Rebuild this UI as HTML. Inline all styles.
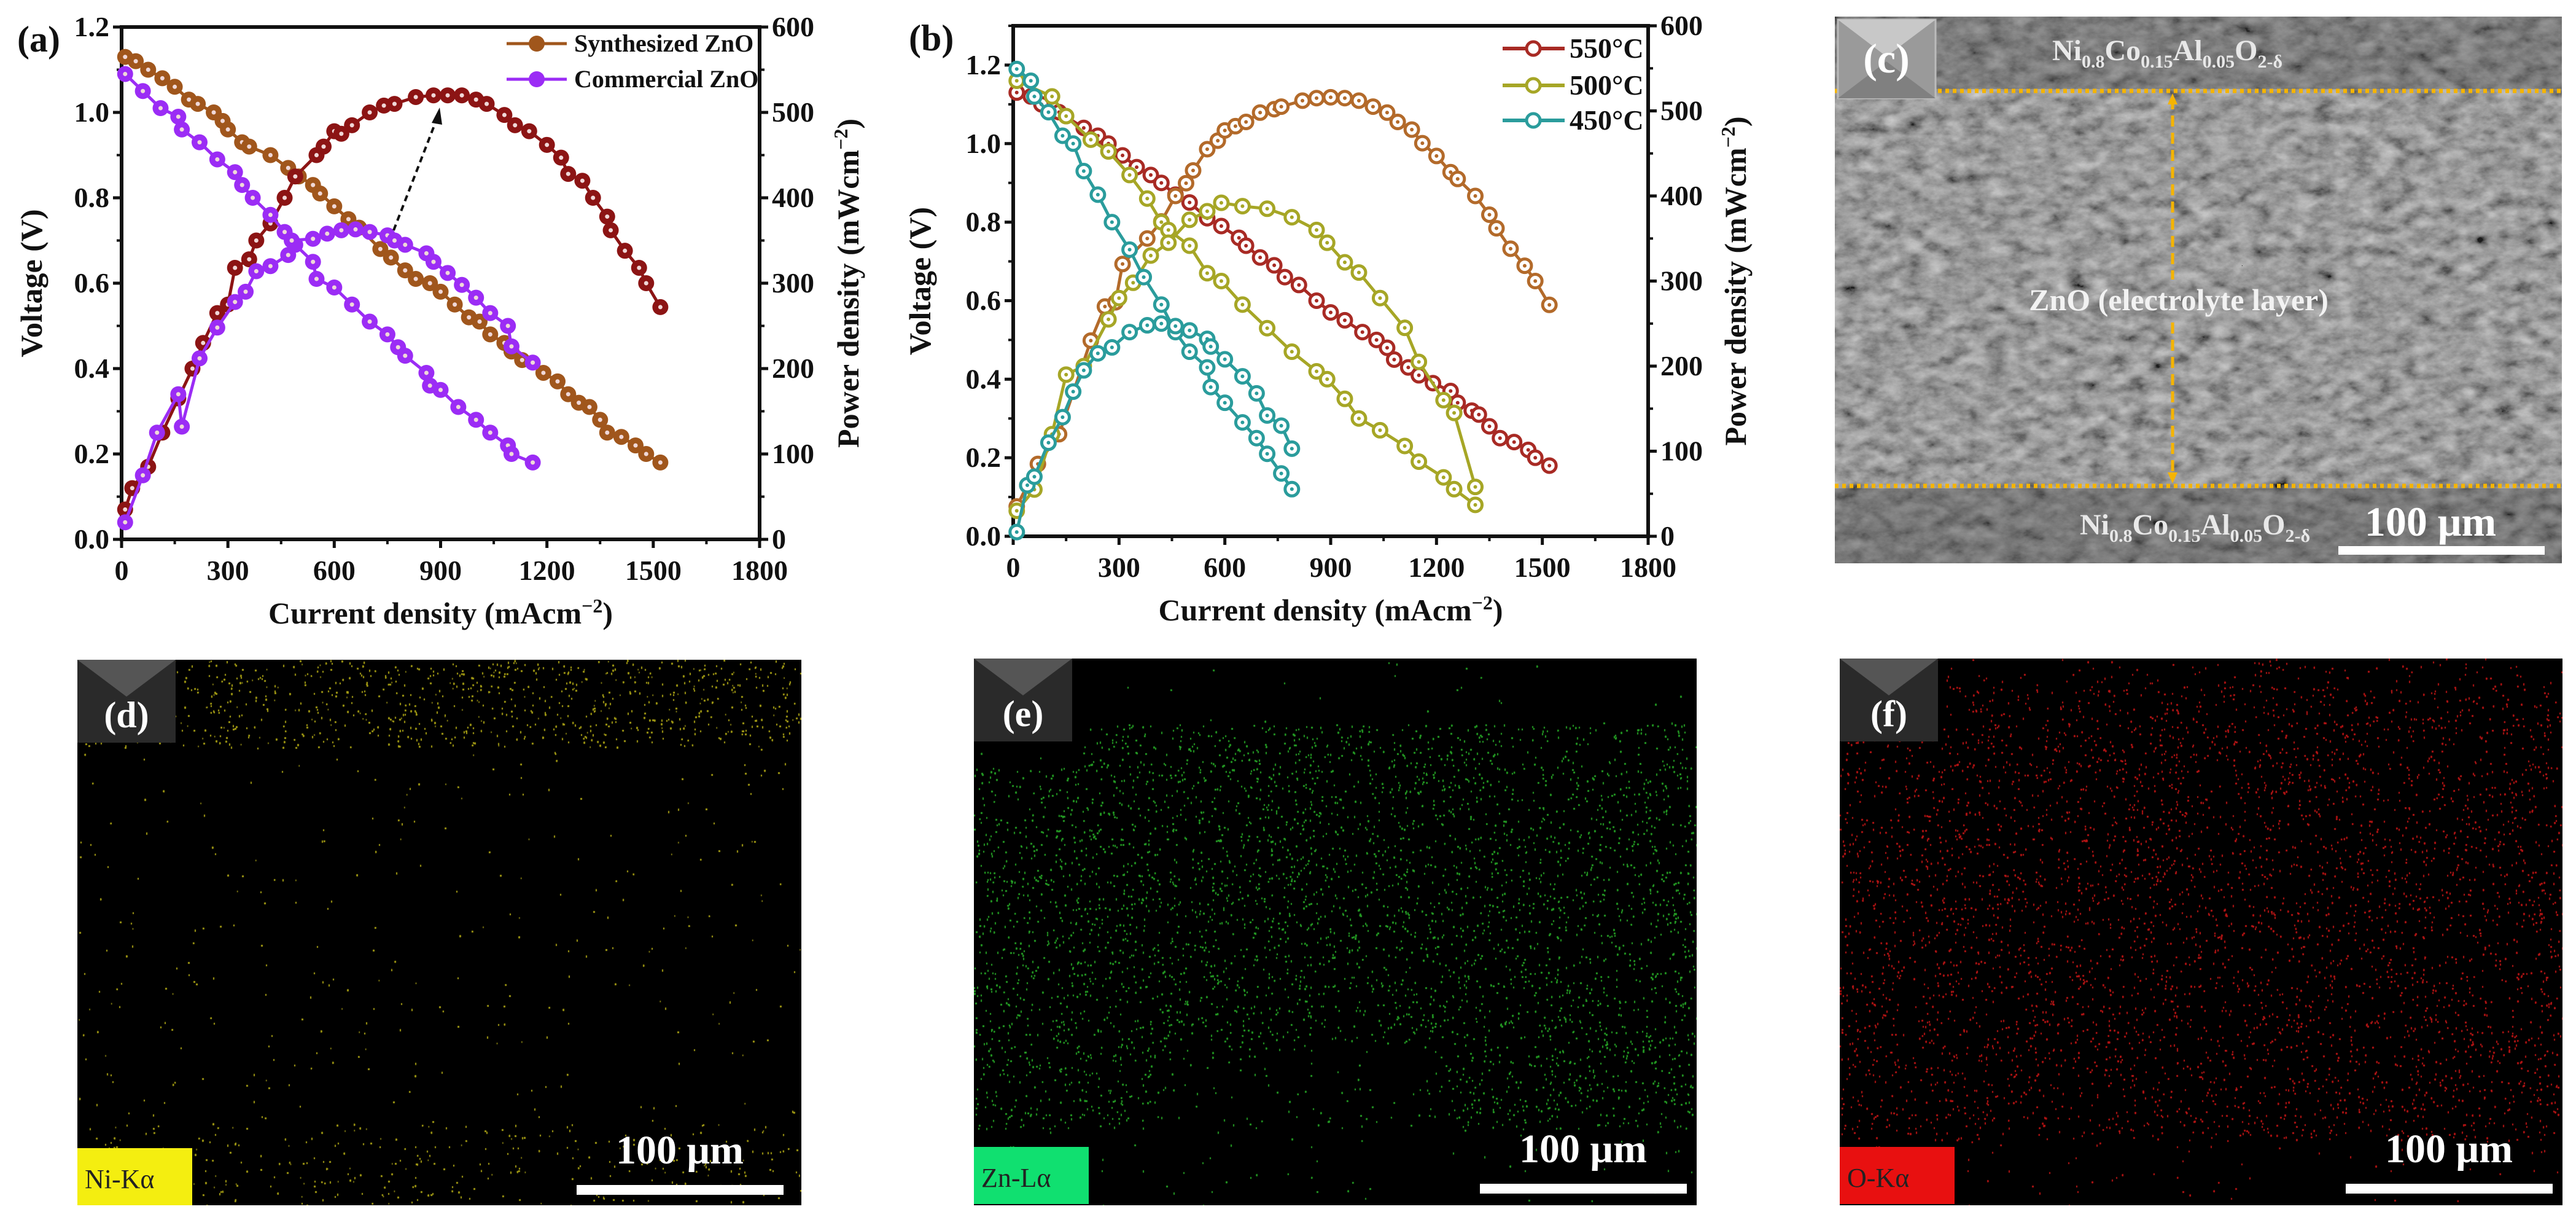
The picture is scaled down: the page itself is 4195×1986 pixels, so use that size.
<!DOCTYPE html>
<html><head><meta charset="utf-8">
<style>
html,body{margin:0;padding:0;background:#fff;}
body{width:4195px;height:1986px;position:relative;overflow:hidden;font-family:"Liberation Serif",serif;}
svg{position:absolute;left:0;top:0;}
canvas{position:absolute;}
.t{font-family:"Liberation Serif",serif;font-weight:bold;fill:#111;}
</style></head>
<body>
<svg id="fig" width="4195" height="1986" viewBox="0 0 4195 1986">
<defs>
<filter id="sem" x="0" y="0" width="100%" height="100%">
<feTurbulence type="fractalNoise" baseFrequency="0.03 0.05" numOctaves="5" seed="7" result="n"/>
<feColorMatrix in="n" type="matrix" values="0.33 0.33 0.33 0 0  0.33 0.33 0.33 0 0  0.33 0.33 0.33 0 0  0 0 0 0 1"/>
<feComponentTransfer><feFuncR type="linear" slope="1.6" intercept="-0.4"/><feFuncG type="linear" slope="1.6" intercept="-0.4"/><feFuncB type="linear" slope="1.6" intercept="-0.4"/></feComponentTransfer>
</filter>
</defs>
<g id="pa"></g>
<g id="pb"></g>
<g id="pc">
<rect x="2988" y="27" width="1184" height="890" fill="#6f6f6f"/>
<rect x="2988" y="27" width="1184" height="890" filter="url(#sem)" opacity="0.75"/>
<rect x="2988" y="795" width="1184" height="122" fill="#3a3a3a" opacity="0.35"/>
<rect x="2988" y="27" width="1184" height="118" fill="#3a3a3a" opacity="0.3"/>
<line x1="2988" y1="148" x2="4172" y2="148" stroke="#f5b400" stroke-width="7" stroke-dasharray="6 6"/>
<line x1="2988" y1="791" x2="4172" y2="791" stroke="#f5b400" stroke-width="7" stroke-dasharray="6 6"/>
<line x1="3538" y1="160" x2="3538" y2="455" stroke="#f5b400" stroke-width="5" stroke-dasharray="18 10"/>
<line x1="3538" y1="525" x2="3538" y2="780" stroke="#f5b400" stroke-width="5" stroke-dasharray="18 10"/>
<polygon points="3538,152 3530,170 3546,170" fill="#f5b400"/>
<polygon points="3538,787 3530,769 3546,769" fill="#f5b400"/>
<rect x="2993" y="32" width="159" height="128" fill="#9a9a9a" stroke="#bbb" stroke-width="3"/>
<polygon points="2993,32 3152,32 3072,92" fill="#c8c8c8"/>
<polygon points="2993,160 3152,160 3072,100" fill="#808080"/>
<text x="3072" y="118" text-anchor="middle" font-size="68" style="fill:#fff;font-weight:bold">(c)</text>
<text x="3342" y="98" font-size="48" style="fill:#e8e8e8;font-weight:bold">Ni<tspan font-size="30" dy="12">0.8</tspan><tspan dy="-12">Co</tspan><tspan font-size="30" dy="12">0.15</tspan><tspan dy="-12">Al</tspan><tspan font-size="30" dy="12">0.05</tspan><tspan dy="-12">O</tspan><tspan font-size="30" dy="12">2-δ</tspan></text>
<text x="3548" y="505" text-anchor="middle" font-size="50" style="fill:#f2f2f2;font-weight:bold">ZnO (electrolyte layer)</text>
<text x="3387" y="870" font-size="48" style="fill:#e8e8e8;font-weight:bold">Ni<tspan font-size="30" dy="12">0.8</tspan><tspan dy="-12">Co</tspan><tspan font-size="30" dy="12">0.15</tspan><tspan dy="-12">Al</tspan><tspan font-size="30" dy="12">0.05</tspan><tspan dy="-12">O</tspan><tspan font-size="30" dy="12">2-δ</tspan></text>
<text x="3958" y="872" text-anchor="middle" font-size="68" style="fill:#fff;font-weight:bold">100 μm</text>
<rect x="3808" y="889" width="336" height="14" fill="#fff"/>
</g>
</svg>
<canvas id="cd" width="1179" height="888" style="left:126px;top:1074px"></canvas>
<canvas id="ce" width="1177" height="890" style="left:1586px;top:1072px"></canvas>
<canvas id="cf" width="1177" height="890" style="left:2996px;top:1072px"></canvas>
<svg id="ov" width="4195" height="1986" viewBox="0 0 4195 1986"></svg>
<script>
// ---- Panel (a) data ----
const aSynI = [10,40,75,115,150,190,215,260,285,300,340,360,420,470,500,540,560,600,640,670,730,760,800,830,870,900,940,980,1010,1040,1080,1100,1130,1190,1230,1260,1290,1320,1350,1370,1410,1450,1480,1520];
const aSynV = [1.13,1.12,1.10,1.08,1.06,1.03,1.02,1.00,0.98,0.96,0.93,0.92,0.90,0.87,0.85,0.83,0.81,0.78,0.75,0.73,0.68,0.66,0.63,0.61,0.60,0.58,0.55,0.52,0.51,0.48,0.46,0.44,0.42,0.39,0.37,0.34,0.32,0.31,0.28,0.25,0.24,0.22,0.20,0.18];
const aSynPI = [10,30,75,115,160,200,230,270,300,320,360,380,420,460,490,550,570,600,620,650,700,740,770,830,880,920,960,1000,1030,1080,1110,1150,1200,1240,1260,1300,1330,1370,1380,1420,1460,1480,1520];
const aSynP = [35,60,85,125,165,200,230,265,275,318,328,350,370,400,425,450,460,478,475,485,500,508,510,518,520,520,520,515,510,497,485,478,462,447,428,420,400,378,362,338,318,300,272];
const aComI = [10,60,110,160,170,220,270,320,340,370,420,460,490,540,550,600,650,700,750,780,800,860,870,900,950,1000,1040,1090,1100,1160];
const aComV = [1.09,1.05,1.01,0.99,0.96,0.93,0.89,0.86,0.83,0.80,0.76,0.72,0.69,0.65,0.61,0.59,0.55,0.51,0.48,0.45,0.43,0.39,0.36,0.35,0.31,0.28,0.25,0.22,0.20,0.18];
const aComPI = [10,60,100,160,170,220,270,320,350,380,420,470,480,540,580,620,660,700,750,770,800,860,880,920,960,1000,1040,1090,1100,1160];
const aComP = [20,75,125,170,132,212,248,278,290,314,320,333,350,352,358,362,363,360,356,350,345,335,325,312,298,283,265,250,226,207];
// ---- Panel (b) data ----
const b550I = [10,50,80,130,200,240,270,310,350,390,420,460,500,550,590,640,660,700,740,770,810,860,900,940,990,1030,1060,1080,1120,1150,1190,1240,1260,1300,1320,1350,1380,1420,1460,1480,1520];
const b550V = [1.13,1.12,1.10,1.08,1.04,1.02,1.00,0.97,0.94,0.92,0.90,0.87,0.85,0.81,0.79,0.76,0.74,0.71,0.69,0.66,0.64,0.60,0.57,0.55,0.52,0.50,0.48,0.45,0.43,0.41,0.39,0.37,0.34,0.32,0.31,0.28,0.25,0.24,0.22,0.20,0.18];
const b550PI = [10,40,70,130,220,260,290,310,380,420,460,490,510,550,580,600,630,660,700,740,760,820,860,900,940,980,1020,1060,1090,1130,1160,1200,1240,1260,1310,1350,1370,1410,1450,1480,1520];
const b550P = [35,60,85,120,230,270,275,320,350,370,400,415,430,455,465,477,482,487,498,502,505,512,515,516,515,512,505,498,487,478,462,447,428,420,400,378,362,338,318,300,272];
const b500I = [10,110,150,220,270,330,380,420,440,500,550,590,650,720,790,860,890,940,980,1040,1110,1150,1220,1250,1310];
const b500V = [1.16,1.12,1.07,1.01,0.98,0.92,0.86,0.80,0.78,0.74,0.67,0.65,0.59,0.53,0.47,0.42,0.40,0.35,0.30,0.27,0.23,0.19,0.15,0.12,0.08];
const b500PI = [10,60,110,150,200,270,300,340,390,440,500,550,590,650,720,790,860,890,940,980,1040,1110,1150,1220,1250,1310];
const b500P = [30,55,120,190,200,255,280,298,330,345,372,382,392,388,385,375,360,345,322,310,280,245,205,160,145,58];
const b450I = [10,50,60,100,140,170,200,240,280,330,370,420,460,500,550,560,600,650,690,720,760,790];
const b450V = [1.19,1.16,1.12,1.08,1.02,1.00,0.93,0.87,0.80,0.73,0.66,0.59,0.52,0.47,0.43,0.38,0.34,0.29,0.25,0.21,0.16,0.12];
const b450PI = [10,40,60,100,140,170,200,240,280,330,380,420,460,500,550,560,600,650,690,720,760,790];
const b450P = [5,60,70,110,140,170,195,215,222,240,248,250,247,242,232,223,208,188,168,142,130,103];
const xTicks = [0,300,600,900,1200,1500,1800];
const vTicks = [0.0,0.2,0.4,0.6,0.8,1.0,1.2];
const pTicks = [0,100,200,300,400,500,600];

const NS='http://www.w3.org/2000/svg';
function mk(parent,tag,attrs,text){const e=document.createElementNS(NS,tag);for(const k in attrs)e.setAttribute(k,attrs[k]);if(text!==undefined)e.textContent=text;parent.appendChild(e);return e;}

function axes(g,L,R,T,B,X,YV,YP,labX,labY,letter,vmax){
  const ax=mk(g,'g',{});
  
  
  mk(ax,'rect',{x:L,y:T,width:R-L,height:B-T,fill:'none',stroke:'#111','stroke-width':6});
  xTicks.forEach(v=>{const x=X(v);mk(ax,'line',{x1:x,y1:B,x2:x,y2:B+14,stroke:'#111','stroke-width':5});
    const t=mk(ax,'text',{x:x,y:B+66,'text-anchor':'middle','font-size':46,class:'t'},String(v));
    });
  for(let v=150;v<1800;v+=300){const x=X(v);mk(ax,'line',{x1:x,y1:B,x2:x,y2:B+8,stroke:'#111','stroke-width':4});}
  vTicks.forEach(v=>{const y=YV(v);mk(ax,'line',{x1:L,y1:y,x2:L-14,y2:y,stroke:'#111','stroke-width':5});
    const t=mk(ax,'text',{x:L-20,y:y+15,'text-anchor':'end','font-size':46,class:'t'},v.toFixed(1));
    });
  for(let v=0.1;v<vmax;v+=0.2){const y=YV(v);mk(ax,'line',{x1:L,y1:y,x2:L-8,y2:y,stroke:'#111','stroke-width':4});}
  pTicks.forEach(v=>{const y=YP(v);mk(ax,'line',{x1:R,y1:y,x2:R+14,y2:y,stroke:'#111','stroke-width':5});
    const t=mk(ax,'text',{x:R+20,y:y+15,'font-size':46,class:'t'},String(v));
    });
  for(let v=50;v<600;v+=100){const y=YP(v);mk(ax,'line',{x1:R,y1:y,x2:R+8,y2:y,stroke:'#111','stroke-width':4});}
  const xt=mk(ax,'text',{x:(L+R)/2,y:B+137,'text-anchor':'middle','font-size':50,class:'t'});
  xt.innerHTML='Current density (mAcm<tspan font-size="32" dy="-18">−2</tspan><tspan dy="18">)</tspan>';
  
  const yt=mk(ax,'text',{x:0,y:0,'text-anchor':'middle','font-size':50,class:'t',transform:`translate(${labY},${(T+B)/2}) rotate(-90)`},'Voltage (V)');
  
  const pt=mk(ax,'text',{x:0,y:0,'text-anchor':'middle','font-size':50,class:'t',transform:`translate(${labX},${(T+B)/2}) rotate(-90)`});
  pt.innerHTML='Power density (mWcm<tspan font-size="32" dy="-18">−2</tspan><tspan dy="18">)</tspan>';
  
  const lt=mk(g,'text',{x:L-170,y:T+40,'font-size':60,class:'t'},letter);
  
}

function series(g,xs,ys,X,Y,color,name,hollow){
  const s=mk(g,'g',{});
  
  
  const pts=xs.map((v,i)=>X(v)+','+Y(ys[i])).join(' ');
  mk(s,'polyline',{points:pts,fill:'none',stroke:color,'stroke-width':5});
  xs.forEach((v,i)=>{
    const c=mk(s,'circle',hollow?{cx:X(v),cy:Y(ys[i]),r:11,fill:'#fff',stroke:color,'stroke-width':5}:{cx:X(v),cy:Y(ys[i]),r:13,fill:color});
    
    
    mk(s,'circle',{cx:X(v),cy:Y(ys[i]),r:hollow?3:3.5,fill:hollow?color:'#f0d8d8'});
  });
}

// Panel a
(function(){
  const g=document.getElementById('pa');
  const L=198,R=1237,T=44,B=878;
  const X=i=>L+i*(R-L)/1800, YV=v=>B-v*(B-T)/1.2, YP=p=>B-p*(B-T)/600;
  axes(g,L,R,T,B,X,YV,YP,1398,68,'(a)',1.2);
  series(g,aSynI,aSynV,X,YV,'#a0561c','synthesized-voltage',false);
  series(g,aSynPI,aSynP,X,YP,'#8c1414','synthesized-power',false);
  series(g,aComI,aComV,X,YV,'#9b2cf5','commercial-voltage',false);
  series(g,aComPI,aComP,X,YP,'#9b2cf5','commercial-power',false);
  const ar=mk(g,'g',{});
  mk(ar,'line',{x1:641,y1:375,x2:712,y2:192,stroke:'#111','stroke-width':4,'stroke-dasharray':'10 7'});
  mk(ar,'polygon',{points:'716,175 703,200 720,203',fill:'#111'});
  const lg=mk(g,'g',{});
  [['Synthesized ZnO','#a0561c',71],['Commercial ZnO','#9b2cf5',129]].forEach(([t,c,y])=>{
    const e=mk(lg,'g',{});
    mk(e,'line',{x1:825,y1:y,x2:923,y2:y,stroke:c,'stroke-width':5});
    mk(e,'circle',{cx:874,cy:y,r:13,fill:c});
    mk(e,'text',{x:935,y:y+13,'font-size':40,class:'t'},t);
  });
})();
// Panel b
(function(){
  const g=document.getElementById('pb');
  const L=1650,R=2684,T=42,B=873;
  const X=i=>L+i*(R-L)/1800, YV=v=>B-v*(B-T)/1.3, YP=p=>B-p*(B-T)/600;
  axes(g,L,R,T,B,X,YV,YP,2843,1515,'(b)',1.3);
  series(g,b550I,b550V,X,YV,'#a82a24','550C-voltage',true);
  series(g,b550PI,b550P,X,YP,'#b36a2a','550C-power',true);
  series(g,b500I,b500V,X,YV,'#a6a626','500C-voltage',true);
  series(g,b500PI,b500P,X,YP,'#a6a626','500C-power',true);
  series(g,b450I,b450V,X,YV,'#2a9c9c','450C-voltage',true);
  series(g,b450PI,b450P,X,YP,'#2a9c9c','450C-power',true);
  const lg=mk(g,'g',{});
  [['550°C','#a82a24',79],['500°C','#a6a626',139],['450°C','#2a9c9c',196]].forEach(([t,c,y])=>{
    const e=mk(lg,'g',{});
    mk(e,'line',{x1:2447,y1:y,x2:2548,y2:y,stroke:c,'stroke-width':6});
    mk(e,'circle',{cx:2497,cy:y,r:11,fill:'#fff',stroke:c,'stroke-width':5});
    mk(e,'text',{x:2556,y:y+15,'font-size':46,class:'t'},t);
  });
})();

// EDS maps (decorative texture)
let seed=12345;function rnd(){seed=(seed*1103515245+12345)%2147483648;return seed/2147483648;}
function eds(id,color,dens){
  const c=document.getElementById(id),x=c.getContext('2d');
  x.fillStyle='#000';x.fillRect(0,0,c.width,c.height);x.fillStyle=color;
  const W=c.width,H=c.height,n=160000;
  for(let i=0;i<n;i++){const px=rnd()*W,py=rnd()*H;if(rnd()<dens(px/W,py/H))x.fillRect(px,py,1.5,2.5);}
}
eds('cd','#a8a018',(u,v)=>v<0.16?0.45:(v>0.85?0.18:0.03));
eds('ce','#28a028',(u,v)=>{if(v<0.12)return 0.02; if(v>0.86)return 0.03; if(v>0.7&&u>0.25&&u<0.65)return 0.15; if(v<0.2&&u<0.15)return 0.05; return 0.55;});
eds('cf','#b81818',(u,v)=>v>0.88?0.04:(v<0.05?0.2:0.5));
(function(){
  const ov=document.getElementById('ov');
  [[126,1074,'(d)','Ni-Kα','#f4ee10','#222',939],[1586,1072,'(e)','Zn-Lα','#10e070','#222',2410],[2996,1072,'(f)','O-Kα','#e81010','#222',3820]].forEach(([L,T,lt,el,bc,tc,sb])=>{
    const g=mk(ov,'g',{});
    mk(g,'rect',{x:L,y:T,width:160,height:135,fill:'#2a2a2a'});
    mk(g,'polygon',{points:`${L},${T} ${L+160},${T} ${L+80},${T+60}`,fill:'#555'});
    const a=mk(g,'text',{x:L+80,y:T+110,'text-anchor':'middle','font-size':60,style:'fill:#fff;font-weight:bold;font-family:Liberation Serif'},lt);
    
    mk(g,'rect',{x:L,y:T+795,width:187,height:93,fill:bc});
    const e=mk(g,'text',{x:L+12,y:T+860,'font-size':44,style:'fill:'+tc+';font-family:Liberation Serif'},el);
    
    const s=mk(g,'text',{x:sb+168,y:T+820,'text-anchor':'middle','font-size':66,style:'fill:#fff;font-weight:bold;font-family:Liberation Serif'},'100 μm');
    
    const b=mk(g,'rect',{x:sb,y:T+855,width:337,height:16,fill:'#fff'});
    
  });
})();
</script>
</body></html>
